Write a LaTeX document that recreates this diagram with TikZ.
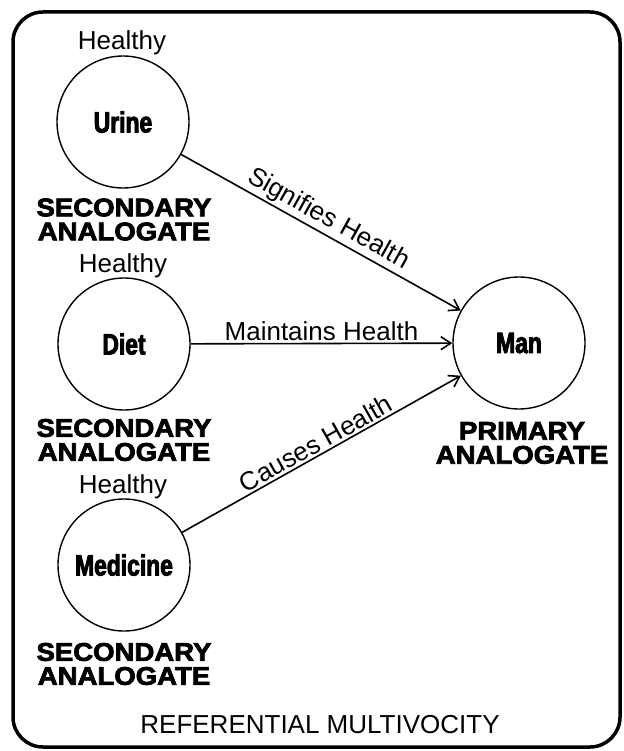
\documentclass[tikz,border=0pt]{standalone}
\usepackage{fontspec}
\setmainfont{Liberation Sans}
\newfontfamily\namefont[FakeStretch=0.78,FakeBold=3]{Liberation Sans Bold}
\newfontfamily\heavyfont[FakeStretch=1.08,FakeBold=3]{Liberation Sans Bold}
\usetikzlibrary{arrows.meta}
\begin{document}
\begin{tikzpicture}[x=1pt,y=-1pt,
  ana/.style={circle,draw,line width=1.4pt,minimum size=132pt,inner sep=0pt,
    font=\namefont\fontsize{29.3}{30}\selectfont},
  healthy/.style={anchor=base,inner sep=0pt,font=\fontsize{26}{28}\selectfont},
  role/.style={align=center,inner sep=0pt,font=\heavyfont\fontsize{25.5}{24}\selectfont},
  conn/.style={line width=1.6pt,-{Straight Barb[length=10pt,width=13pt,line width=1.6pt]}},
  lab/.style={font=\fontsize{26}{28}\selectfont,inner sep=2pt,sloped,above}]
\useasboundingbox (0,0) rectangle (623,751);
\draw[line width=3.5pt,rounded corners=30pt] (13,12) rectangle (620,747);

\node[ana] (urine) at (123,122) {Urine};
\node[ana] (diet) at (124,344) {Diet};
\node[ana] (med) at (124,565) {Medicine};
\node[ana] (man) at (519,343) {Man};

\node[healthy] (h1) at (122,50) {Healthy};
\node[healthy] (h2) at (123,272) {Healthy};
\node[healthy] (h3) at (123,493) {Healthy};

\node[role] (r1) at (124,219.5) {SECONDARY\\ANALOGATE};
\node[role] (r2) at (124,440) {SECONDARY\\ANALOGATE};
\node[role] (r3) at (124,664) {SECONDARY\\ANALOGATE};
\node[role] (r4) at (522,443) {PRIMARY\\ANALOGATE};

\draw[conn] (urine) -- node[lab] (l1) {Signifies Health} (man);
\draw[conn] (diet) -- node[lab] (l2) {Maintains Health} (man);
\draw[conn] (med) -- node[lab] (l3) {Causes Health} (man);

\node[anchor=base,inner sep=0pt,font=\fontsize{26}{28}\selectfont] (title) at (320,733) {REFERENTIAL MULTIVOCITY};
\end{tikzpicture}
\end{document}
